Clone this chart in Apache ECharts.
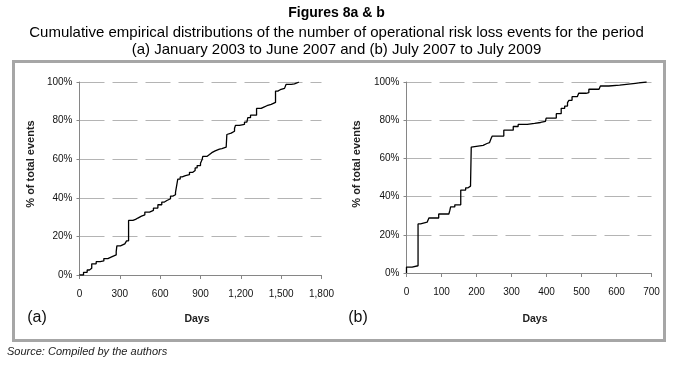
<!DOCTYPE html>
<html>
<head>
<meta charset="utf-8">
<script src="https://cdn.jsdelivr.net/npm/echarts@6/dist/echarts.min.js"></script>
<style>
  html, body { margin: 0; padding: 0; background: #fff; }
  #chart { width: 673px; height: 367px; }
</style>
</head>
<body>
<div id="chart"></div>
<script>
// (a) January 2003 to June 2007 - days and cumulative % of events
const daysA = [0, 30, 57, 74, 91, 124, 154, 181, 211, 243, 273, 278, 305, 337, 350, 365,
  397, 417, 434, 461, 486, 521, 550, 583, 612, 632, 650, 677, 694, 714, 726, 731,
  749, 764, 788, 818, 843, 860, 875, 900, 912, 917, 950, 967, 984, 1009, 1041, 1059, 1091, 1096,
  1108, 1128, 1153, 1160, 1190, 1227, 1245, 1252, 1272, 1317, 1351, 1371, 1394, 1426, 1458,
  1475, 1493, 1525, 1537, 1575, 1599, 1617, 1632];
const pctA = [0, 1.4, 2.6, 3.5, 5.8, 6.9, 7.3, 8.5, 9.5, 10.4, 12.1, 15.1, 16.1, 16.6, 17.7, 28.3,
  28.8, 29.5, 30.5, 31.2, 32.6, 33.5, 34.7, 36.4, 37.8, 38.6, 39.5, 40.9, 41.6, 42.8, 43.7, 49.7,
  50.8, 51.5, 52.0, 53.2, 54.2, 55.5, 56.7, 57.9, 59.8, 61.5, 62.4, 63.4, 64.3, 65.2, 65.5, 66.2, 66.9, 72.8,
  73.5, 74.5, 75.9, 77.5, 78.0, 79.2, 80.2, 81.5, 82.8, 86.3, 87.0, 87.7, 88.4, 89.4, 95.3,
  96.0, 96.7, 97.6, 98.8, 99.0, 99.5, 100, 100];

// (b) July 2007 to July 2009
const daysB = [0, 0, 16, 33, 40, 59, 64, 92, 121, 124, 126, 138, 155, 169, 176, 183, 185, 188,
  219, 230, 237, 242, 245, 278, 305, 319, 345, 366, 383, 397, 399, 428, 442, 452, 460, 464,
  473, 488, 492, 513, 521, 550, 554, 578, 609, 654, 664, 686];
const pctB = [0, 3.1, 3.8, 25.7, 26.6, 27.1, 28.8, 30.9, 31.5, 32.9, 34.6, 35.7, 43.4, 44.6, 45.5, 46.7, 65.9, 66.8,
  67.8, 68.2, 69.1, 70.5, 71.7, 74.8, 76.7, 77.8, 78.3, 78.8, 79.4, 79.9, 81.1, 83.4, 86.2, 87.4, 89.2, 90.4,
  92.3, 92.7, 94.1, 94.4, 96.2, 96.3, 97.9, 98.4, 99.3, 99.5, 100, 100];

const font = '"Liberation Sans", Arial, sans-serif';

function zip(xs, ys) {
  return xs.map((x, i) => [x, ys[i]]);
}

function xAxisOf(grid, max, interval) {
  return {
    type: 'value', gridIndex: grid, min: 0, max: max, interval: interval,
    axisLine: { show: true, lineStyle: { color: '#868686', width: 1 } },
    axisTick: { show: true, length: 4, lineStyle: { color: '#868686' } },
    splitLine: { show: false },
    axisLabel: {
      margin: 14, fontSize: 10, color: '#111', fontFamily: font,
      formatter: v => v.toLocaleString('en-US')
    }
  };
}

function yAxisOf(grid) {
  return {
    type: 'value', gridIndex: grid, min: 0, max: 100, interval: 20,
    axisLine: { show: true, lineStyle: { color: '#868686', width: 1 } },
    axisTick: { show: true, length: 3, lineStyle: { color: '#868686' } },
    splitLine: { show: true, lineStyle: { color: '#b4b4b4', width: 1, type: [25, 8] } },
    axisLabel: { margin: 7, fontSize: 10, color: '#111', fontFamily: font, formatter: '{value}%' }
  };
}

function lineOf(idx, data) {
  return {
    type: 'line', xAxisIndex: idx, yAxisIndex: idx, step: 'end',
    showSymbol: false, symbol: 'none', silent: true,
    lineStyle: { color: '#000', width: 1.3 },
    data: data
  };
}

const myChart = echarts.init(document.getElementById('chart'));
myChart.setOption({
  animation: false,
  backgroundColor: '#fff',
  title: [{
    text: 'Figures 8a & b', left: 'center', top: 1,
    textStyle: { fontSize: 14, fontWeight: 'bold', color: '#000', fontFamily: font }
  }, {
    text: 'Cumulative empirical distributions of the number of operational risk loss events for the period\n(a) January 2003 to June 2007 and (b) July 2007 to July 2009',
    left: 'center', top: 19,
    textStyle: { fontSize: 15, fontWeight: 'normal', color: '#000', fontFamily: font, lineHeight: 17, align: 'center' }
  }],
  grid: [
    { left: 79.5, top: 82, width: 242, height: 193, containLabel: false },
    { left: 406.5, top: 82, width: 245, height: 191, containLabel: false }
  ],
  xAxis: [xAxisOf(0, 1800, 300), xAxisOf(1, 700, 100)],
  yAxis: [yAxisOf(0), yAxisOf(1)],
  series: [lineOf(0, zip(daysA, pctA)), lineOf(1, zip(daysB, pctB))],
  graphic: [
    {
      type: 'rect', shape: { x: 13.5, y: 61.5, width: 651, height: 279 },
      style: { fill: 'none', stroke: '#a6a6a6', lineWidth: 3 }, z: -1
    },
    {
      type: 'text', x: 31, y: 164, rotation: Math.PI / 2,
      style: { text: '% of total events', fill: '#222', font: 'bold 11px ' + font, align: 'center', verticalAlign: 'middle' }
    },
    {
      type: 'text', x: 357, y: 164, rotation: Math.PI / 2,
      style: { text: '% of total events', fill: '#222', font: 'bold 11px ' + font, align: 'center', verticalAlign: 'middle' }
    },
    {
      type: 'text', x: 197, y: 319,
      style: { text: 'Days', fill: '#222', font: 'bold 10.5px ' + font, align: 'center', verticalAlign: 'middle' }
    },
    {
      type: 'text', x: 535, y: 319,
      style: { text: 'Days', fill: '#222', font: 'bold 10.5px ' + font, align: 'center', verticalAlign: 'middle' }
    },
    {
      type: 'text', x: 37, y: 318,
      style: { text: '(a)', fill: '#111', font: '16px ' + font, align: 'center', verticalAlign: 'middle' }
    },
    {
      type: 'text', x: 358, y: 318,
      style: { text: '(b)', fill: '#111', font: '16px ' + font, align: 'center', verticalAlign: 'middle' }
    },
    {
      type: 'text', x: 7, y: 352,
      style: { text: 'Source: Compiled by the authors', fill: '#222', font: 'italic 11px ' + font, verticalAlign: 'middle' }
    }
  ]
});
</script>
</body>
</html>
